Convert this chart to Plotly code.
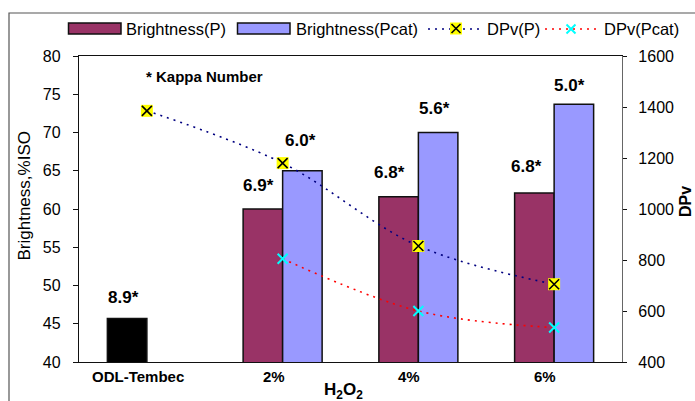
import plotly.graph_objects as go

# ---------------- data ----------------
categories = ["ODL-Tembec", "2%", "4%", "6%"]
brightness_p = [45.7, 60.0, 61.6, 62.1]
brightness_pcat = [None, 65.0, 70.0, 73.7]
dpv_p = [1385, 1180, 855, 705]
dpv_pcat = [None, 805, 600, 535]
kappa_p = ["8.9*", "6.9*", "6.8*", "6.8*"]
kappa_pcat = [None, "6.0*", "5.6*", "5.0*"]
left_ticks = [40, 45, 50, 55, 60, 65, 70, 75, 80]
right_ticks = [400, 600, 800, 1000, 1200, 1400, 1600]

# ---------------- styling ----------------
W, H = 695, 401
ML, MR, MT, MB = 79, 73, 56, 39
PW, PH = W - ML - MR, H - MT - MB
FONT = "Liberation Sans, Arial, sans-serif"
C_P, C_PCAT = "#993366", "#9999FF"
C_DP, C_DPCAT = "#000080", "#FF0000"


def px_x(px):
    return (px - ML) / PW


def px_y(py):
    return (H - MB - py) / PH


fig = go.Figure()

fig.add_trace(go.Bar(
    x=categories, y=brightness_p, name="Brightness(P)",
    marker=dict(color=["#000000", C_P, C_P, C_P],
                line=dict(color="#111111", width=1.5)),
    offsetgroup="p", showlegend=False,
))
fig.add_trace(go.Bar(
    x=categories, y=brightness_pcat, name="Brightness(Pcat)",
    marker=dict(color=C_PCAT, line=dict(color="#111111", width=1.5)),
    offsetgroup="pcat", showlegend=False,
))

fig.add_trace(go.Scatter(
    x=categories, y=dpv_p, yaxis="y2", mode="lines+markers", name="DPv(P)",
    line=dict(color=C_DP, width=1.6, dash="2px,5px", shape="spline"),
    marker=dict(symbol="square", size=12, color="#FFFF00", line=dict(width=0)),
    showlegend=False,
))
fig.add_trace(go.Scatter(
    x=categories, y=dpv_p, yaxis="y2", mode="markers",
    marker=dict(symbol="x-thin", size=10, line=dict(color="#000000", width=1.6)),
    showlegend=False, hoverinfo="skip",
))
fig.add_trace(go.Scatter(
    x=categories, y=dpv_pcat, yaxis="y2", mode="lines+markers", name="DPv(Pcat)",
    line=dict(color=C_DPCAT, width=1.6, dash="2px,5px", shape="spline"),
    marker=dict(symbol="x-thin", size=10, line=dict(color="#00FFFF", width=2)),
    showlegend=False, connectgaps=False,
))

annotations = []
shapes = []

# Kappa number labels above bars (xshift relative to category centre, yshift above bar top)
BAR_HALF = 19.75
p_dx = [-3.5, -4.5, -9, -7.5]
p_dy = [21, 24, 24.6, 26.6]
pc_dx = [0, -2, -4, -4]
pc_dy = [0, 30.7, 23.7, 18.3]
for i, c in enumerate(categories):
    if kappa_p[i]:
        annotations.append(dict(x=c, y=brightness_p[i], xref="x", yref="y",
                                text="<b>%s</b>" % kappa_p[i], showarrow=False,
                                xanchor="center", yanchor="middle",
                                xshift=-BAR_HALF + p_dx[i], yshift=p_dy[i],
                                font=dict(family=FONT, size=17, color="black")))
    if kappa_pcat[i]:
        annotations.append(dict(x=c, y=brightness_pcat[i], xref="x", yref="y",
                                text="<b>%s</b>" % kappa_pcat[i], showarrow=False,
                                xanchor="center", yanchor="middle",
                                xshift=BAR_HALF + pc_dx[i], yshift=pc_dy[i],
                                font=dict(family=FONT, size=17, color="black")))

# category labels (slightly left of centre, as in the reference)
for c in categories:
    annotations.append(dict(x=c, y=px_y(376.5), xref="x", yref="paper",
                            text="<b>%s</b>" % c, showarrow=False, xshift=-9,
                            xanchor="center", yanchor="middle",
                            font=dict(family=FONT, size=15, color="black")))

# axis titles
annotations.append(dict(x=px_x(343.5), y=px_y(391), xref="paper", yref="paper",
                        text="<b>H<sub>2</sub>O<sub>2</sub></b>", showarrow=False,
                        xanchor="center", yanchor="middle",
                        font=dict(family=FONT, size=17, color="black")))
annotations.append(dict(x=px_x(24), y=px_y(196.5), xref="paper", yref="paper",
                        text="Brightness,%ISO", showarrow=False, textangle=-90,
                        xanchor="center", yanchor="middle",
                        font=dict(family=FONT, size=17, color="black")))
annotations.append(dict(x=px_x(685), y=px_y(202), xref="paper", yref="paper",
                        text="<b>DPv</b>", showarrow=False, textangle=-90,
                        xanchor="center", yanchor="middle",
                        font=dict(family=FONT, size=16, color="black")))
annotations.append(dict(x=px_x(204), y=px_y(76), xref="paper", yref="paper",
                        text="<b>* Kappa Number</b>", showarrow=False,
                        xanchor="center", yanchor="middle",
                        font=dict(family=FONT, size=15, color="black")))

# ---- custom legend ----
LY = 28.5
def rect(x0, x1, y0, y1, fill, line="#111111", lw=1.5):
    shapes.append(dict(type="rect", xref="paper", yref="paper",
                       x0=px_x(x0), x1=px_x(x1), y0=px_y(y1), y1=px_y(y0),
                       fillcolor=fill, line=dict(color=line, width=lw)))

def seg(x0, y0, x1, y1, color, width=1.6, dash="solid"):
    shapes.append(dict(type="line", xref="paper", yref="paper",
                       x0=px_x(x0), x1=px_x(x1), y0=px_y(y0), y1=px_y(y1),
                       line=dict(color=color, width=width, dash=dash)))

def legtext(x, t):
    annotations.append(dict(x=px_x(x), y=px_y(LY), xref="paper", yref="paper",
                            text=t, showarrow=False, xanchor="left", yanchor="middle",
                            font=dict(family=FONT, size=16.5, color="black")))

rect(68.5, 121, 23, 34, C_P)
legtext(124, "Brightness(P)")
rect(237.5, 290, 23, 34, C_PCAT)
legtext(294, "Brightness(Pcat)")
seg(428, LY + 0.5, 481, LY + 0.5, C_DP, 1.6, "2px,5px")
rect(450, 462, 22.5, 34.5, "#FFFF00", line="#FFFF00", lw=0)
seg(451.5, 24, 460.5, 33, "#000000", 1.6)
seg(451.5, 33, 460.5, 24, "#000000", 1.6)
legtext(485, "DPv(P)")
seg(545, LY + 0.5, 598, LY + 0.5, C_DPCAT, 1.6, "2px,5px")
seg(566.5, 24.5, 575.5, 33.5, "#00FFFF", 2)
seg(566.5, 33.5, 575.5, 24.5, "#00FFFF", 2)
legtext(602, "DPv(Pcat)")

# outer chart border (extends beyond the visible window like the reference)
shapes.append(dict(type="rect", xref="paper", yref="paper",
                   x0=px_x(9), x1=px_x(720), y0=px_y(430), y1=px_y(13),
                   line=dict(color="#555555", width=1.2), fillcolor="rgba(0,0,0,0)",
                   layer="below"))

fig.update_layout(
    width=W, height=H,
    margin=dict(l=ML, r=MR, t=MT, b=MB, pad=0),
    paper_bgcolor="white", plot_bgcolor="white",
    barmode="group", bargap=0.418, bargroupgap=0,
    showlegend=False,
    font=dict(family=FONT, size=16, color="black"),
    xaxis=dict(type="category", categoryorder="array", categoryarray=categories,
               showticklabels=False, ticks="", showline=True, linecolor="#111111",
               linewidth=1.3, mirror=True, showgrid=False, zeroline=False,
               range=[-0.5, 3.5]),
    yaxis=dict(range=[40, 80], tickvals=left_ticks, ticks="outside", ticklen=5,
               tickcolor="#111111", showline=True, linecolor="#111111", linewidth=1.3,
               showgrid=False, zeroline=False, ticklabelstandoff=9,
               tickfont=dict(family=FONT, size=16, color="black")),
    yaxis2=dict(range=[400, 1600], tickvals=right_ticks, overlaying="y", side="right",
                ticks="outside", ticklen=4, tickcolor="#111111", showline=True,
                linecolor="#666666", linewidth=1.3, showgrid=False, zeroline=False,
                ticklabelstandoff=8,
                tickfont=dict(family=FONT, size=16, color="black")),
    annotations=annotations,
    shapes=shapes,
)

fig.write_html(
    "out.html",
    config={"displayModeBar": False},
    post_script="document.body.style.margin='0';document.body.style.overflow='hidden';",
)
